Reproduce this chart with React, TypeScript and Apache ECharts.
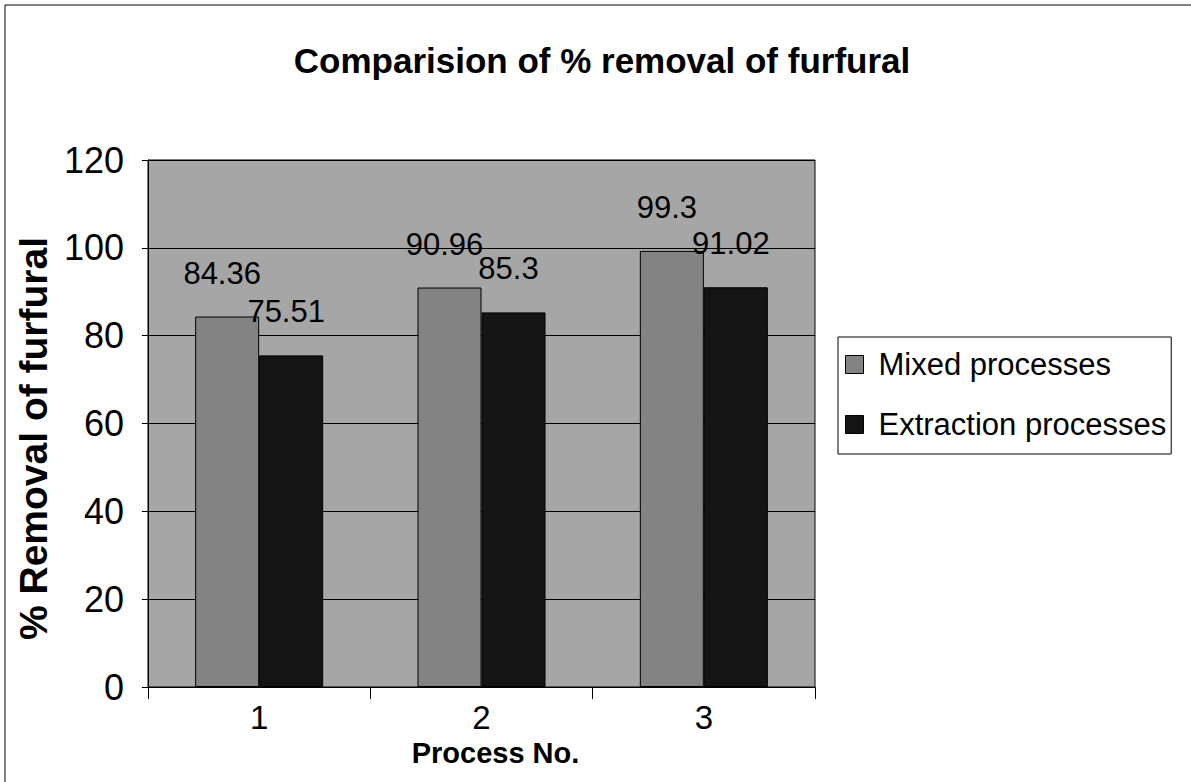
import React, { useEffect, useRef } from "react";
import * as echarts from "echarts";

const categories = ["1", "2", "3"];
const mixed = [84.36, 90.96, 99.3];
const extraction = [75.51, 85.3, 91.02];
const seriesNames = ["Mixed processes", "Extraction processes"];
const titleText = "Comparision of % removal of furfural";
const yName = "% Removal of furfural";
const xName = "Process No.";

export default function App() {
  const ref = useRef<HTMLDivElement>(null);
  useEffect(() => {
    if (!ref.current) return;
    const chart = echarts.init(ref.current, undefined, { renderer: "svg" });
    const font = "Arial, 'Liberation Sans', sans-serif";
    const labelStyle = {
      show: true,
      position: "top" as const,
      distance: 28,
      offset: [-5, 0],
      color: "#000",
      fontFamily: font,
      fontSize: 31,
    };
    chart.setOption({
      animation: false,
      backgroundColor: "#fff",
      title: {
        text: titleText,
        left: 597,
        top: 38,
        textAlign: "center",
        textStyle: { fontFamily: font, fontWeight: "bold", fontSize: 35, color: "#000" },
      },
      legend: {
        orient: "vertical",
        left: 838,
        top: 337,
        itemWidth: 18,
        itemHeight: 18,
        itemGap: 29,
        padding: [12, 5, 14, 7],
        borderColor: "#000",
        borderWidth: 1,
        icon: "rect",
        itemStyle: { borderColor: "#000", borderWidth: 1 },
        textStyle: { fontFamily: font, fontSize: 31, color: "#000", padding: [0, 0, 0, 10] },
        data: seriesNames,
      },
      graphic: [
        {
          type: "rect",
          shape: { x: 5, y: 5, width: 1200, height: 800 },
          style: { fill: "none", stroke: "#000", lineWidth: 1 },
          silent: true,
        },
      ],
      grid: {
        left: 148,
        right: 376,
        top: 160,
        bottom: 95,
        show: true,
        backgroundColor: "#a6a6a6",
        borderColor: "#000",
        borderWidth: 1,
      },
      xAxis: {
        type: "category",
        data: categories,
        name: xName,
        nameLocation: "middle",
        nameGap: 34,
        nameTextStyle: { fontFamily: font, fontWeight: "bold", fontSize: 29, color: "#000", padding: [0, 0, 0, 28] },
        axisLine: { lineStyle: { color: "#000", width: 1 } },
        axisTick: { show: true, length: 12, lineStyle: { color: "#000" } },
        axisLabel: { fontFamily: font, fontSize: 33, color: "#000", margin: 14 },
      },
      yAxis: {
        type: "value",
        min: 0,
        max: 120,
        interval: 20,
        name: yName,
        nameLocation: "middle",
        nameGap: 82,
        nameTextStyle: { fontFamily: font, fontWeight: "bold", fontSize: 39, color: "#000", padding: [0, 30, 0, 0] },
        axisLine: { show: true, lineStyle: { color: "#000" } },
        axisTick: { show: true, length: 6, lineStyle: { color: "#000" } },
        axisLabel: { fontFamily: font, fontSize: 36, color: "#000", margin: 24 },
        splitLine: { show: true, lineStyle: { color: "#000", width: 1 } },
      },
      series: [
        {
          name: seriesNames[0],
          type: "bar",
          data: mixed,
          barWidth: 64,
          barGap: "0%",
          itemStyle: { color: "#838383", borderColor: "#000", borderWidth: 1 },
          label: labelStyle,
        },
        {
          name: seriesNames[1],
          type: "bar",
          data: extraction,
          barWidth: 64,
          barGap: "0%",
          itemStyle: { color: "#141414", borderColor: "#000", borderWidth: 1 },
          label: labelStyle,
        },
      ],
    });
    return () => chart.dispose();
  }, []);
  return <div ref={ref} style={{ width: 1191, height: 782, position: "absolute", left: 0, top: 0 }} />;
}
